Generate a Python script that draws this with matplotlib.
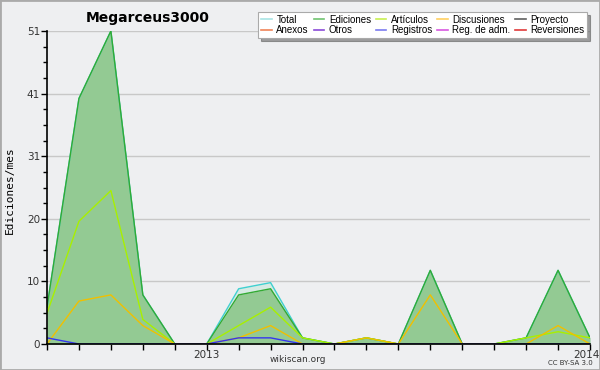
import numpy as np
import matplotlib.pyplot as plt
from matplotlib.patches import Rectangle
from matplotlib.transforms import ScaledTranslation

# monthly data, Aug 2012 .. Jan 2014
months = ['2012-08', '2012-09', '2012-10', '2012-11', '2012-12', '2013-01',
          '2013-02', '2013-03', '2013-04', '2013-05', '2013-06', '2013-07',
          '2013-08', '2013-09', '2013-10', '2013-11', '2013-12', '2014-01']
total = [6, 40, 51, 8, 0, 0, 9, 10, 1, 0, 1, 0, 12, 0, 0, 1, 12, 1]
ediciones = [6, 40, 51, 8, 0, 0, 8, 9, 1, 0, 1, 0, 12, 0, 0, 1, 12, 1]
articulos = [5, 20, 25, 4, 0, 0, 3, 6, 1, 0, 1, 0, 0, 0, 0, 1, 2, 1]
discusiones = [0, 7, 8, 3, 0, 0, 1, 3, 0, 0, 1, 0, 8, 0, 0, 0, 3, 0]
registros = [1, 0, 0, 0, 0, 0, 1, 1, 0, 0, 0, 0, 0, 0, 0, 0, 0, 0]

legend_labels = ['Total', 'Anexos', 'Ediciones', 'Otros', 'Artículos', 'Registros',
                 'Discusiones', 'Reg. de adm.', 'Proyecto', 'Reversiones']
legend_colors = ['#a8e4e4', '#f08458', '#70c470', '#8a4ad8', '#c8f050', '#7c7cf0',
                 '#ffd060', '#d858e0', '#606060', '#e03a3a']

bg = '#eeeff1'
fig = plt.figure(figsize=(6, 3.7), dpi=100, facecolor=bg)
ax = fig.add_axes([47 / 600, 26 / 370, 543 / 600, 313 / 370])
ax.set_facecolor(bg)

x = np.arange(len(months))
ax.fill_between(x, total, color='#d6ebe4', lw=0)
ax.fill_between(x, ediciones, color='#93ca93', lw=0)
ax.plot(x, total, color='#3fd0d0', lw=1)
ax.plot(x, ediciones, color='#33aa33', lw=1)
ax.plot(x, articulos, color='#a8f000', lw=1)
ax.plot(x, discusiones, color='#f0c000', lw=1)
ax.plot(x, registros, color='#3535f0', lw=1)

ymax = 51
ax.set_xlim(0, len(months) - 1)
ax.set_ylim(0, ymax)
major = [ymax * k / 5 for k in range(6)]
ax.set_yticks(major)
ax.set_yticklabels([str(int(round(v))) for v in major])
ax.set_yticks([ymax * k / 20 for k in range(21) if k % 4], minor=True)
ax.yaxis.grid(True, color='#c8c8c8', lw=1)
ax.set_axisbelow(True)

ax.set_xticks(x)
ax.set_xticklabels(['2013' if m == '2013-01' else '2014' if m == '2014-01' else ''
                    for m in months])
ax.tick_params(axis='both', which='major', length=4, width=1, labelsize=7.5,
               colors='black', labelcolor='#333333', pad=1)
ax.tick_params(axis='x', pad=0)
ax.tick_params(axis='y', which='minor', length=3, width=1)
# keep the last year label inside the frame
last = ax.get_xticklabels()[-1]
last.set_transform(last.get_transform() + ScaledTranslation(-4 / 100, 0, fig.dpi_scale_trans))
for s in ['top', 'right']:
    ax.spines[s].set_visible(False)
for s in ['left', 'bottom']:
    ax.spines[s].set_linewidth(1.2)

fig.text(148 / 600, 1 - 18 / 370, 'Megarceus3000', ha='center', va='center',
         fontsize=10, fontweight='bold')
fig.text(10 / 600, 1 - 190 / 370, 'Ediciones/mes', rotation=90, ha='center',
         va='center', fontsize=8, family='DejaVu Sans Mono')
fig.text(298 / 600, 1 - 360 / 370, 'wikiscan.org', ha='center', va='center',
         fontsize=6.5, color='#333333')
fig.text(570 / 600, 1 - 363 / 370, 'CC BY-SA 3.0', ha='center', va='center',
         fontsize=5, color='#333333')

handles = [plt.Line2D([], [], color=c, lw=1.2) for c in legend_colors]
leg = fig.legend(handles, legend_labels, ncol=5, loc='upper right',
                 bbox_to_anchor=(592 / 600, 1 - 7 / 370),
                 prop={'family': 'Liberation Sans', 'size': 7},
                 frameon=True, fancybox=False, shadow=True, handlelength=1.1,
                 handletextpad=0.45, columnspacing=0.5, labelspacing=0.05,
                 borderpad=0.3)
leg.get_frame().set_edgecolor('#aaaaaa')
leg.get_frame().set_linewidth(0.8)

fig.patches.append(Rectangle((0, 0), 1, 1, transform=fig.transFigure, fill=False,
                             edgecolor='#aaaaaa', lw=2))

fig.savefig('out.png', dpi=100, facecolor=bg)
